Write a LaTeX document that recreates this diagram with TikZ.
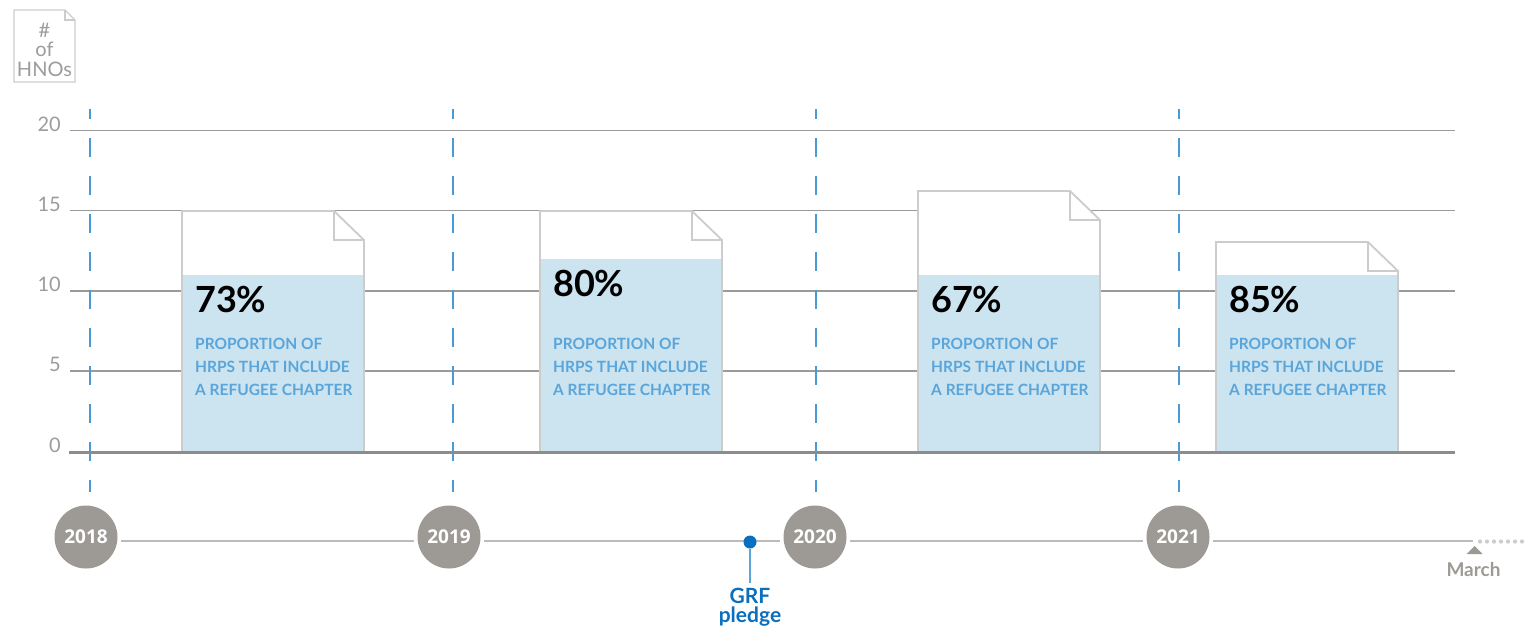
\documentclass[tikz,border=0pt]{standalone}
\usepackage{fontspec}
\setmainfont{Lato}
\newfontfamily\opensans{Open Sans}
\usetikzlibrary{calc}
\definecolor{gridc}{HTML}{9A9A9A}
\definecolor{axisc}{HTML}{8C8C8C}
\definecolor{dashblue}{HTML}{4A9AD4}
\definecolor{docedge}{HTML}{CCCCCC}
\definecolor{docfill}{HTML}{CCE3F0}
\definecolor{captblue}{HTML}{5AA5DA}
\definecolor{yearc}{HTML}{9D9A95}
\definecolor{grfblue}{HTML}{0A6FBE}
\definecolor{grfline}{HTML}{5AA6DB}
\definecolor{linegray}{HTML}{BBBBBB}
\definecolor{labgray}{HTML}{9C9C9C}
\definecolor{dotgray}{HTML}{CCCCCC}
\tikzset{
  gridline/.style={draw=gridc, line width=1.3pt},
  axisline/.style={draw=axisc, line width=3pt},
  yearline/.style={draw=dashblue, line width=2pt, dash pattern=on 19pt off 19pt, dash phase=9pt},
  docshape/.style={draw=docedge, line width=1.8pt, fill=white, line join=miter},
  docblue/.style={fill=docfill},
  pcttext/.style={anchor=base west, inner sep=0pt, font=\fontsize{36}{36}\selectfont\bfseries, text=black},
  capttext/.style={anchor=base west, inner sep=0pt, align=left, font=\fontsize{15.5}{23}\selectfont\bfseries, text=captblue},
  yearcircle/.style={circle, fill=yearc, minimum size=63pt, inner sep=0pt, text=white, font=\opensans\fontsize{19}{19}\selectfont\bfseries},
  tline/.style={draw=linegray, line width=1.6pt},
  ylab/.style={anchor=base east, inner sep=0pt, text=labgray, font=\fontsize{20}{20}\selectfont},
}
\newcommand{\hrdoc}[7]{%
  \path[docshape] (#2,#3) -- ({#2+152},#3) -- ({#2+182},{#3+29}) -- ({#2+182},451) -- (#2,451) -- cycle;
  \fill[docblue] ({#2+0.9},#4) rectangle ({#2+181.1},451);
  \draw[draw=docedge, line width=1.8pt] ({#2+182},#4) -- ({#2+182},451) (#2,#4) -- (#2,451);
  \draw[draw=docedge, line width=1.8pt] ({#2+152},#3) -- ({#2+152},{#3+29}) -- ({#2+182},{#3+29});
  \node[pcttext] (#1p) at ({#2+13},#6) {#5};
  \node[capttext] (#1c) at ({#2+13},395) {PROPORTION OF\\HRPS THAT INCLUDE\\A REFUGEE CHAPTER};
}
\begin{document}
\begin{tikzpicture}[x=1pt,y=-1pt]
\useasboundingbox (0,0) rectangle (1525,633);
% HNOs icon
\path[draw=docedge, line width=1.2pt, fill=white] (14,10) -- (65,10) -- (75,20) -- (75,82) -- (14,82) -- cycle;
\draw[draw=docedge, line width=1.2pt] (65,10) -- (65,20) -- (75,20);
\node[anchor=base, inner sep=0pt, align=center, text=labgray, font=\fontsize{20}{19.5}\selectfont] (hno) at (44.5,76) {\#\\of\\HNOs};
% grid
\foreach \yy/\lab in {130.5/20, 210.5/15, 291/10, 371/5} {
  \draw[gridline] (70,\yy) -- (1455,\yy);
  \node[ylab] at (61,{\yy+0.5}) {\lab};
}
\node[ylab] at (61,452) {0};
% year dashed lines
\foreach \xx in {90,453,816,1179} {
  \draw[yearline] (\xx,109) -- (\xx,492);
}
% documents
\hrdoc{a}{182}{211}{275}{73\%}{312}{}
\hrdoc{b}{540}{211}{259}{80\%}{296}{}
\hrdoc{c}{918}{191}{275}{67\%}{312}{}
\hrdoc{d}{1216}{242}{275}{85\%}{312}{}
% zero axis
\draw[axisline] (69,452) -- (1455,452);
% timeline
\node[yearcircle] (y18) at (86,537) {2018};
\node[yearcircle] (y19) at (449,537) {2019};
\node[yearcircle] (y20) at (815,537) {2020};
\node[yearcircle] (y21) at (1178,537) {2021};
\coordinate (mend) at (1473,541);
\draw[tline] ($(y18.east)+(3,4)$) -- ($(y19.west)+(-3,4)$);
\draw[tline] ($(y19.east)+(3,4)$) -- ($(y20.west)+(-3,4)$);
\draw[tline] ($(y20.east)+(3,4)$) -- ($(y21.west)+(-3,4)$);
\draw[tline] ($(y21.east)+(3,4)$) -- (mend);
\foreach \xx in {1480,1487,...,1525} {
  \fill[dotgray] (\xx,541.5) circle (2.1pt);
}
% March
\fill[yearc] (1466.5,554) -- (1474.5,546) -- (1482.5,554) -- cycle;
\node[anchor=base, inner sep=0pt, text=yearc, font=\fontsize{19}{19}\selectfont\bfseries] (march) at (1473.5,576) {March};
% GRF pledge
\node[circle, fill=grfblue, minimum size=13pt, inner sep=0pt] (grf) at (750,542) {};
\coordinate (grfend) at (750,583);
\draw[draw=grfline, line width=2pt] (grf.south) -- (grfend);
\node[anchor=base, inner sep=0pt, align=center, text=grfblue, font=\fontsize{21}{19}\selectfont\bfseries] (grft) at (750,622) {GRF\\pledge};
\end{tikzpicture}
\end{document}
